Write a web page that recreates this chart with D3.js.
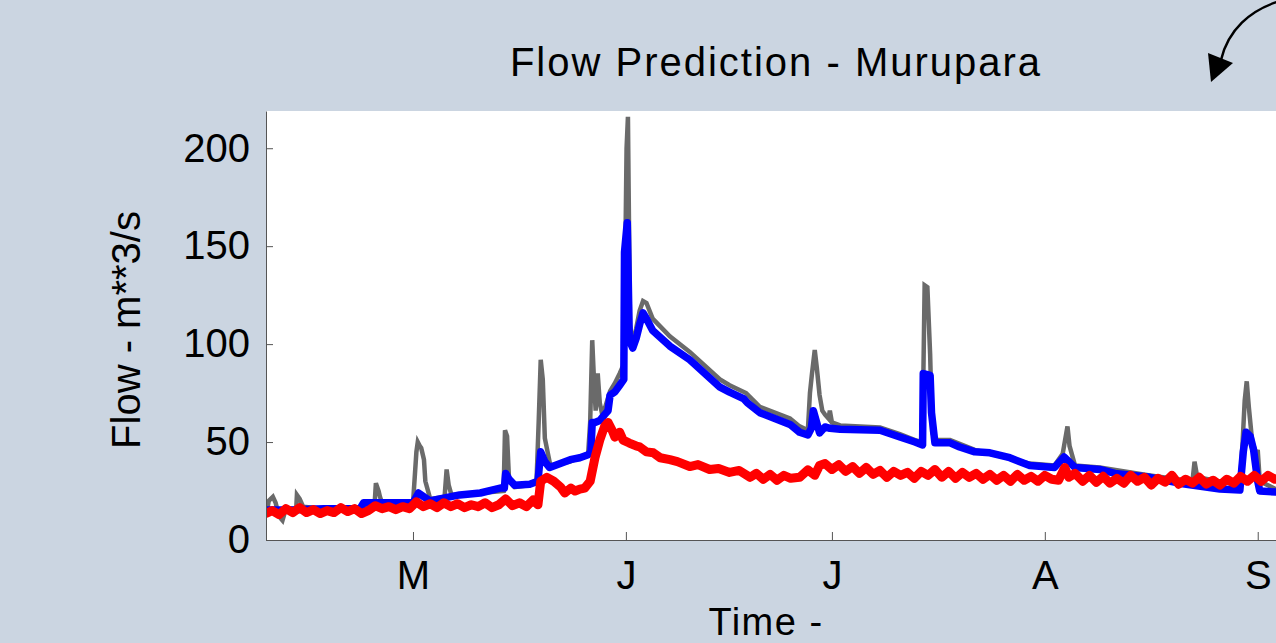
<!DOCTYPE html>
<html>
<head>
    <meta charset="utf-8">
    <script src="https://cdn.jsdelivr.net/npm/d3@7/dist/d3.min.js"></script>
    <title>Flow Prediction - Murupara</title>
    <style>
        * { margin: 0; padding: 0; }
        body { background: #cbd5e1; overflow: hidden; }
        svg { display: block; font-family: "Liberation Sans", Arial, sans-serif; }
        .axis path, .axis line { stroke: #555; stroke-width: 1; }
        .axis text { font-size: 40px; fill: #000; font-family: "Liberation Sans", Arial, sans-serif; }
    </style>
</head>
<body>
    <svg id="chart" width="1276" height="643"></svg>
    <script>
        // time in days since 1 April
        var monthDays = [30, 61, 91, 122, 153];
        var monthLabels = ["M", "J", "J", "A", "S"];
        var flowTicks = [0, 50, 100, 150, 200];

        // observed flow (grey)
        var obsDays = [8.6, 9, 9.6, 10, 10.5, 11, 11.5, 13.0, 13.1, 13.5, 14, 17, 22, 22.5, 24.4, 24.6, 25.0, 25.2, 25.6,
            30.0, 30.5, 30.7, 31.0, 31.2, 31.6, 31.8, 32.2, 32.5, 34.6, 34.9, 35.2, 35.6, 39.8, 43.2, 43.4, 43.7, 44.0,
            44.8, 47.0, 48.0, 48.3, 48.6, 48.9, 49.2, 49.6, 50, 52.9, 55.5, 55.8, 56.1, 56.4, 56.6, 56.9, 57.2, 57.5,
            58, 58.7, 59.4, 60.1, 60.6, 60.9, 61.1, 61.3, 61.4, 61.6, 62.0, 62.5, 63.0, 63.5, 64, 64.9, 67.4, 70.3,
            74.7, 76.1, 78.5, 80.5, 84.9, 86.3, 87.5, 87.8, 88.1, 88.5, 88.8, 89.2, 89.6, 90, 90.5, 90.7, 91, 92.2,
            98, 100.9, 103.1, 104.2, 104.3, 104.5, 104.9, 105.3, 105.6, 106, 108.2, 111.8, 119.8, 123.4, 124.6,
            125.0, 125.3, 125.6, 126.4, 130, 137.3, 143.5, 143.8, 144.2, 150.4, 150.8, 151.1, 151.4, 151.7, 152.2,
            152.8, 153.0, 153.3, 155.6, 157.7];
        var obsFlow = [12, 20, 22, 19, 12, 10, 16, 16, 23, 21, 17, 16, 16.5, 17, 17.5, 29, 25, 22, 18,
            18.5, 45, 50, 48, 47, 41, 30, 25, 21, 22, 36, 28, 23, 24, 25, 56, 53, 30,
            27, 28, 31, 60, 92, 82, 52, 45, 38, 40, 44, 60, 102, 78, 66, 85, 70, 65,
            68, 76, 80, 85, 89, 140, 200, 216, 180, 110, 100, 108, 117, 122, 121, 113, 104, 96,
            82, 79, 75, 68, 62, 58, 56, 75, 85, 97, 88, 74, 66, 64, 62, 66, 60, 58.5,
            57.5, 54, 51, 50, 80, 130, 129, 95, 55, 51, 51, 46, 39, 38, 44,
            52, 58, 48, 38, 37, 33, 30, 40, 32, 28, 50, 71, 81, 68, 50,
            44, 46, 30, 26, 25];

        // model prediction (blue)
        var predDays = [8.6, 13, 17, 22.3, 22.8, 30, 30.8, 31.6, 32.5, 33.9, 36.8, 39.8, 42.7, 43.3, 43.5, 44, 44.8,
            47, 48.2, 48.6, 49.2, 49.9, 52.9, 54.3, 55.5, 55.9, 56.1, 56.5, 57.2, 57.9, 58.4, 58.7, 59.4, 60.1,
            60.7, 60.8, 61.2, 61.5, 62.0, 62.5, 63.0, 63.5, 64, 64.9, 67.4, 70.3, 74.7, 76.1, 78.2, 78.7, 80.5,
            84.9, 86.3, 87.5, 88.0, 88.3, 88.7, 89.2, 90.0, 90.7, 92.2, 98.0, 100.9, 103.1, 104.2, 104.3, 105.3,
            105.5, 106.0, 108.2, 109.6, 111.8, 114.0, 116.9, 119.8, 123.4, 124.8, 126.4, 130.0, 132.2, 137.3,
            141.6, 147.5, 150.4, 150.9, 151.3, 151.9, 152.4, 153.0, 153.3, 155.6, 157.7];
        var predFlow = [15.3, 15.5, 16, 16, 19, 19, 24, 22, 20, 21, 23, 24, 26.5, 26.5, 34, 31, 28,
            28.5, 30, 45, 40, 37, 41, 42, 43.5, 45, 60, 60, 61, 64, 66, 74, 75.6, 79,
            82, 147, 162, 102, 98, 103, 110, 116, 113, 107, 99, 92, 78, 75.5, 72, 70, 65,
            59, 55, 53.6, 57, 66, 61, 54.7, 57.7, 57, 56.5, 56, 52.6, 50, 48.5, 85, 84,
            65, 49.6, 49.6, 47.5, 45, 44.5, 42, 38, 37, 42.4, 37, 36, 34, 32,
            29, 26, 25.5, 45, 55, 53, 46, 30, 25, 24.5, 24];

        // second prediction (red)
        var simDays = [8.6, 9.5, 10.5, 11.5, 12.5, 13.5, 14.5, 15.5, 16.5, 17.5, 18.5, 19.5, 20.5, 21.5, 22.5, 23.5,
            24.5, 25.5, 26.5, 27.5, 28.5, 29.5, 30.5, 31.5, 32.5, 33.5, 34.5, 35.5, 36.5, 37.5, 38.5, 39.5, 40.5,
            41.5, 42.5, 43.5, 44.5, 45.5, 46.5, 47.5, 48.2, 48.6, 49.5, 50.5, 51.5, 52.1, 53, 53.6, 54.3, 55, 55.8,
            56.5, 57.2, 57.9, 58.4, 59, 59.4, 60.1, 60.6, 61.5, 62.5, 63, 64, 65, 66, 67.4, 68.5, 70.3, 71.5, 73.2,
            74.5, 76.1, 77.5, 79.1, 80, 81, 82, 83, 84, 85, 86.3, 87.5, 88.5, 89.2, 90, 91, 92, 93, 94, 95, 96, 97,
            98, 99, 100, 101, 102, 103, 104, 105, 106, 107, 108, 109, 110, 111, 112, 113, 114, 115, 116, 117, 118,
            119, 120, 121, 122, 123, 124, 124.9, 125.5, 126.4, 127.5, 128.5, 129.5, 130.5, 131.5, 132.5, 133.5,
            134.5, 135.5, 136.5, 137.5, 138.5, 139.5, 140.5, 141.5, 142.5, 143.5, 144.5, 145.5, 146.5, 147.5,
            148.5, 149.5, 150.5, 151.5, 152.5, 153.5, 154.5, 155.5, 157.7];
        var simFlow = [13.5, 15, 13, 16, 14, 16.5, 14, 15.5, 13.5, 15, 14, 16.5, 14.5, 16, 13.5, 15,
            17.5, 16, 17, 15.5, 17, 16, 19.5, 17, 18.5, 16.5, 19, 17, 18.5, 16.5, 18, 17, 19,
            16.5, 18, 21, 17.5, 19, 17, 20.5, 18, 30, 32, 30, 27, 24, 26.5, 25, 26, 26.5, 30,
            42, 51, 58, 60, 56, 52.5, 55, 51, 49.5, 48, 47.5, 45, 44.5, 42, 41, 40, 37.5, 38.5, 36,
            36.5, 34.5, 35.5, 32, 34, 31, 33.5, 30.5, 33, 31.5, 32, 35.8, 33, 38, 39, 36, 38.5, 35, 37.5, 34, 37, 33.5,
            35.5, 32, 35, 33, 34.5, 31.5, 35, 33, 36, 32, 35, 31.5, 34.5, 32, 34, 31, 33.5, 30.5, 33, 30, 33.5,
            30.5, 32.5, 30, 33, 31, 30.5, 37, 32, 34, 30, 33, 29.5, 32.5, 29, 31.5, 29,
            33, 30, 32, 28, 31.5, 29.5, 33, 28.5, 31, 29, 32, 28.5, 30.5, 28,
            31, 29, 32.5, 30, 33, 30, 33, 31, 32];

        var plotLeft = 266, plotRight = 1290, plotTop = 111, plotBottom = 540;

        var svg = d3.select("#chart");

        svg.append("rect")
            .attr("x", plotLeft).attr("y", plotTop)
            .attr("width", plotRight - plotLeft).attr("height", plotBottom - plotTop)
            .attr("fill", "#fff");

        svg.append("clipPath").attr("id", "clip")
            .append("rect")
            .attr("x", plotLeft).attr("y", plotTop)
            .attr("width", plotRight - plotLeft).attr("height", plotBottom - plotTop);

        var x = d3.scaleLinear().domain([8.6, 157.7]).range([plotLeft, plotRight]);
        var y = d3.scaleLinear().domain([0, 219]).range([plotBottom, plotTop]);

        function series(days, vals) {
            return days.map(function (d, i) { return [d, vals[i]]; });
        }
        var line = d3.line()
            .x(function (d) { return x(d[0]); })
            .y(function (d) { return y(d[1]); });

        var plot = svg.append("g").attr("clip-path", "url(#clip)");

        plot.append("path")
            .datum(series(obsDays, obsFlow))
            .attr("d", line)
            .attr("fill", "none")
            .attr("stroke", "#6a6a6a")
            .attr("stroke-width", 4.5)
            .attr("stroke-linejoin", "miter");

        plot.append("path")
            .datum(series(predDays, predFlow))
            .attr("d", line)
            .attr("fill", "none")
            .attr("stroke", "#0000ff")
            .attr("stroke-width", 7.5)
            .attr("stroke-linejoin", "round")
            .attr("stroke-linecap", "round");

        plot.append("path")
            .datum(series(simDays, simFlow))
            .attr("d", line)
            .attr("fill", "none")
            .attr("stroke", "#ff0000")
            .attr("stroke-width", 9)
            .attr("stroke-linejoin", "round")
            .attr("stroke-linecap", "round");

        // axes, MATLAB style ticks pointing inwards
        var xAxis = d3.axisBottom(x)
            .tickValues(monthDays)
            .tickFormat(function (d, i) { return monthLabels[i]; })
            .tickSizeInner(-8)
            .tickSizeOuter(0)
            .tickPadding(21);
        svg.append("g").attr("class", "axis")
            .attr("transform", "translate(0," + plotBottom + ")")
            .call(xAxis);

        var yAxis = d3.axisLeft(y)
            .tickValues(flowTicks)
            .tickSizeInner(-7)
            .tickSizeOuter(0)
            .tickPadding(16);
        svg.append("g").attr("class", "axis")
            .attr("transform", "translate(" + plotLeft + ",0)")
            .call(yAxis);

        svg.append("text")
            .attr("x", 776)
            .attr("y", 76)
            .attr("text-anchor", "middle")
            .style("font-size", "40px")
            .style("letter-spacing", "2px")
            .text("Flow Prediction - Murupara");

        svg.append("text")
            .attr("x", 766)
            .attr("y", 635)
            .attr("text-anchor", "middle")
            .style("font-size", "38px")
            .style("letter-spacing", "1.5px")
            .text("Time -");

        svg.append("text")
            .attr("transform", "translate(140," + 330 + ") rotate(-90)")
            .attr("text-anchor", "middle")
            .style("font-size", "40px")
            .text("Flow - m**3/s");

        // curved arrow at the top right
        svg.append("path")
            .attr("d", "M1280,1 C1250,10 1228,30 1221,60")
            .attr("fill", "none")
            .attr("stroke", "#000")
            .attr("stroke-width", 2.5);
        svg.append("path")
            .attr("d", "M1208,53 L1233,63 L1211,82 Z")
            .attr("fill", "#000");
    </script>
</body>
</html>
